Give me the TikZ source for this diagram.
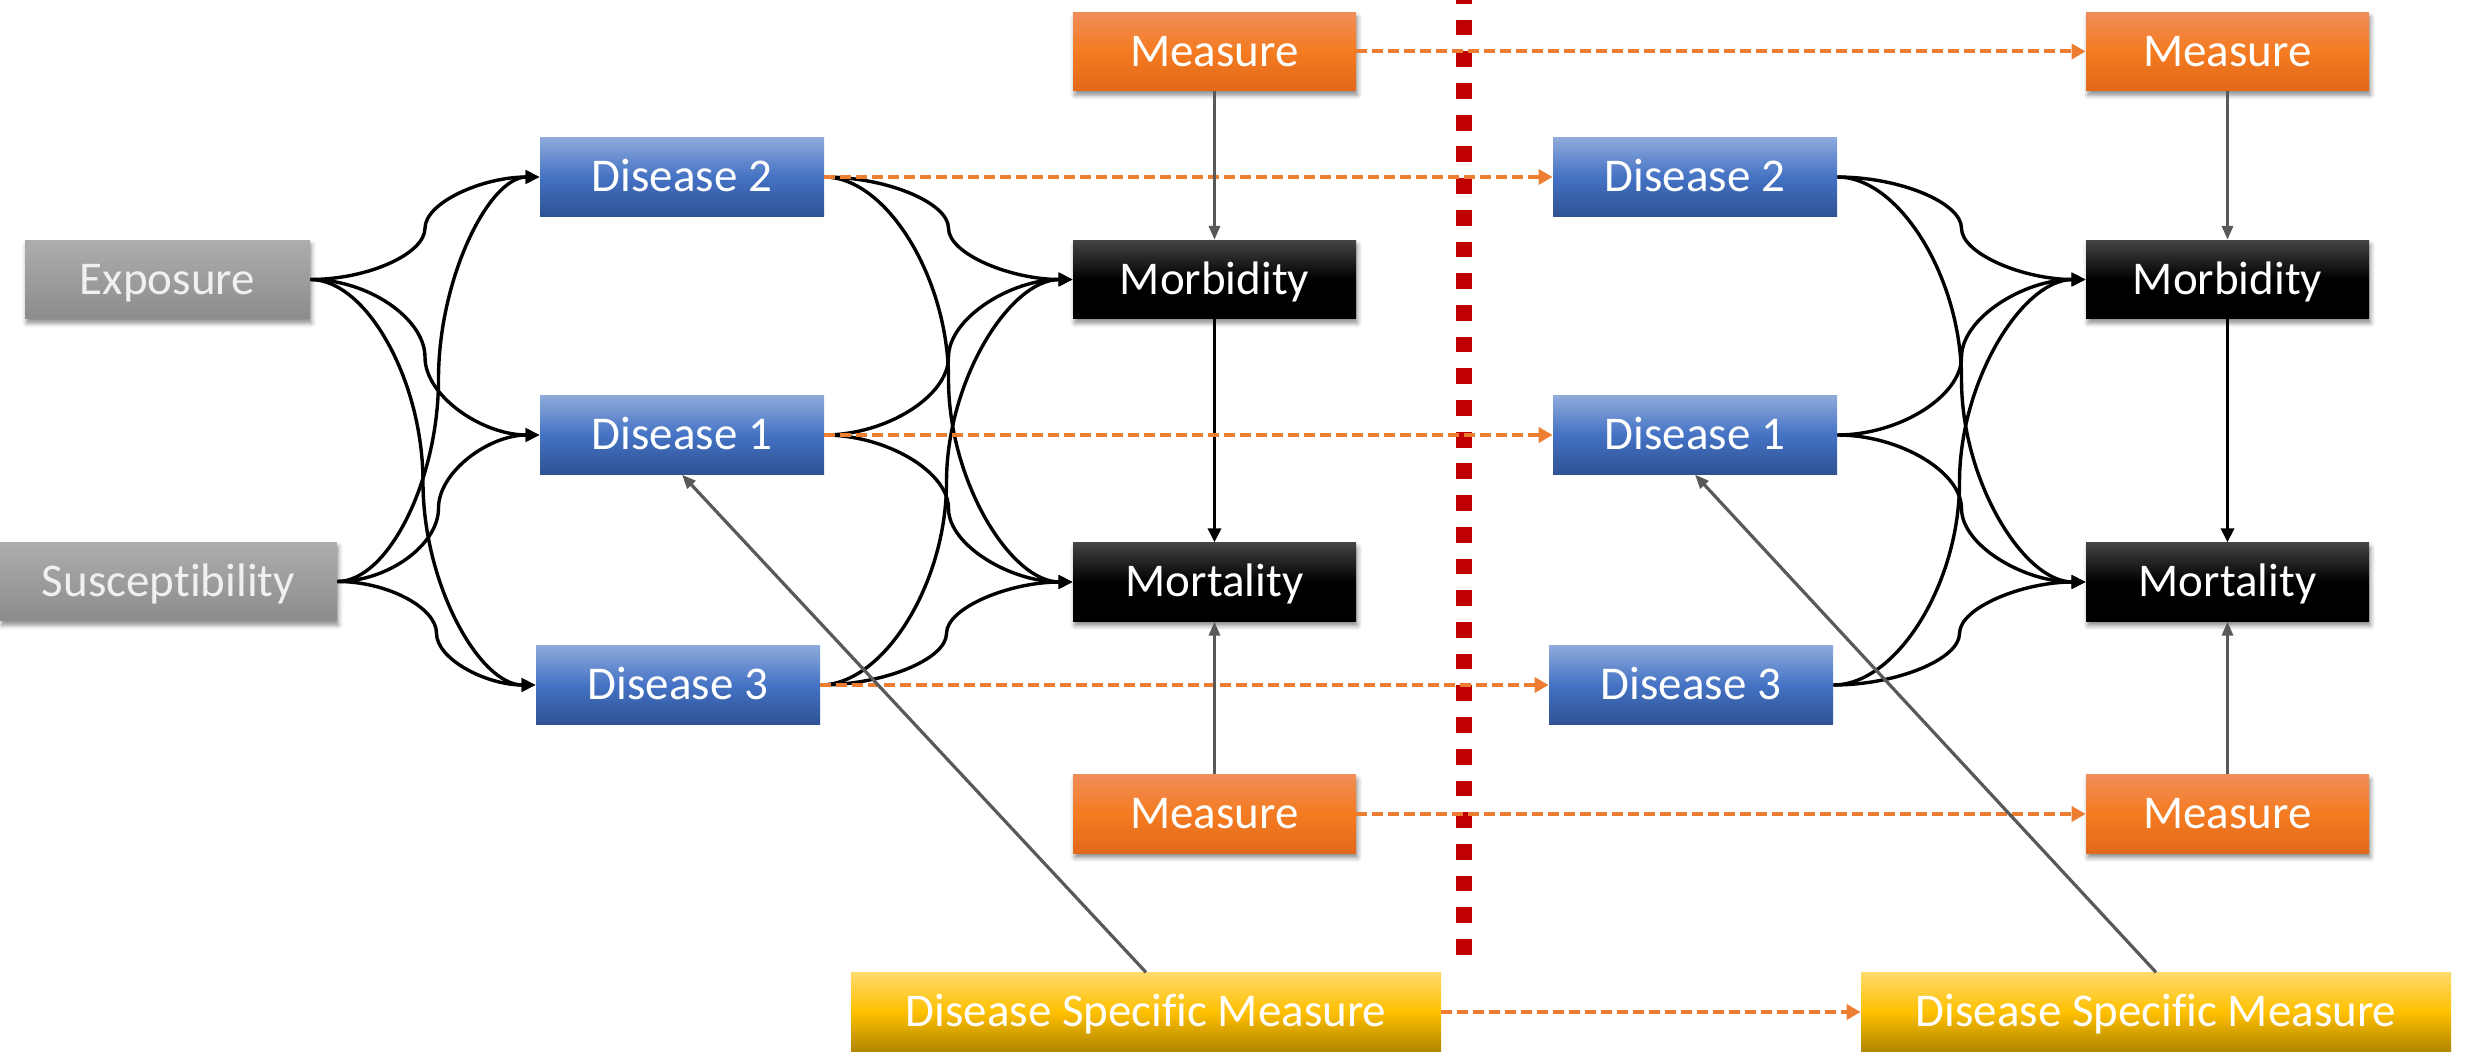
\documentclass[tikz,border=0pt]{standalone}
\usepackage{fontspec}
\setmainfont{Carlito}[Ligatures={NoCommon}]
\usetikzlibrary{arrows.meta,calc,shadows.blur}

\definecolor{blueTop}{HTML}{8EAADB}
\definecolor{blueMid}{HTML}{4472C4}
\definecolor{blueBot}{HTML}{2F5293}
\definecolor{grayTop}{HTML}{ADADAD}
\definecolor{grayBot}{HTML}{8C8C8C}
\definecolor{orTop}{HTML}{F08D58}
\definecolor{orMid}{HTML}{F47B20}
\definecolor{orBot}{HTML}{E2691A}
\definecolor{blkTop}{HTML}{444444}
\definecolor{ylTop}{HTML}{FFDA6A}
\definecolor{ylMid}{HTML}{FFC000}
\definecolor{ylBot}{HTML}{B08500}
\definecolor{dashOrange}{HTML}{ED7D31}
\definecolor{divRed}{HTML}{C00000}
\definecolor{linkGray}{HTML}{595959}

\tikzset{
  box/.style={inner sep=0pt, minimum height=39.25pt, text=white,
    text height=17pt, text depth=2.2pt,
    font=\fontsize{23.5}{28}\selectfont},
  shadowed/.style={blur shadow={shadow xshift=0.8pt, shadow yshift=-2.2pt,
    shadow blur radius=2.2pt, shadow opacity=45}},
  graybox/.style={box, shadowed, top color=grayTop, bottom color=grayBot,
    text=white!94!black},
  bluebox/.style={box, minimum width=142pt,
    top color=blueTop, bottom color=blueBot, middle color=blueMid},
  orangebox/.style={box, shadowed, minimum width=141.5pt,
    top color=orTop, bottom color=orBot, middle color=orMid},
  blackbox/.style={box, shadowed, minimum width=141.5pt,
    top color=blkTop, bottom color=black, middle color=black},
  yellowbox/.style={box, minimum width=295pt,
    top color=ylTop, bottom color=ylBot, middle color=ylMid},
  blackarrow/.style={black, line width=1.7pt,
    -{Triangle[length=7pt,width=6.5pt]}},
  grayarrow/.style={linkGray, line width=1.6pt,
    -{Triangle[length=7pt,width=5.5pt]}},
  orangedash/.style={dashOrange, line width=2pt, dash pattern=on 5.5pt off 2.5pt,
    -{Triangle[length=7pt,width=7.5pt]}},
  divider/.style={divRed, line width=8pt, dash pattern=on 7.9pt off 7.95pt},
  % two-piece S connector: horizontal out, vertical at the middle, horizontal in
  ppc/.style={to path={let \p1=(\tikztostart), \p2=(\tikztotarget) in
    .. controls ({0.75*\x1+0.25*\x2},\y1) and ({0.5*\x1+0.5*\x2},{0.75*\y1+0.25*\y2})
    .. ({0.5*\x1+0.5*\x2},{0.5*\y1+0.5*\y2})
    .. controls ({0.5*\x1+0.5*\x2},{0.25*\y1+0.75*\y2}) and ({0.25*\x1+0.75*\x2},\y2)
    .. (\tikztotarget) \tikztonodes}}
}

% one time slice: diseases, outcomes and measures
% #1 name prefix, #2 horizontal offset, #3 centre of the disease specific measure
\newcommand\causalpanel[3]{%
  \node[bluebox] (#1d2) at ({682+#2},177) {Disease 2};
  \node[bluebox] (#1d1) at ({682+#2},435) {Disease 1};
  \node[bluebox] (#1d3) at ({678+#2},685) {Disease 3};
  \node[orangebox] (#1mt) at ({1214.5+#2},51.5) {Measure};
  \node[blackbox] (#1mb) at ({1214.5+#2},279.5) {Morbidity};
  \node[blackbox] (#1mo) at ({1214.5+#2},582) {Mortality};
  \node[orangebox] (#1mm) at ({1214.5+#2},814) {Measure};
  \node[yellowbox] (#1dsm) at (#3,1012) {Disease Specific Measure};
  \foreach \dis in {d2,d1,d3}{
    \draw[blackarrow] (#1\dis.east) to[ppc] (#1mb.west);
    \draw[blackarrow] (#1\dis.east) to[ppc] (#1mo.west);
  }
  \draw[blackarrow] (#1mb) -- (#1mo);
}

\begin{document}
\begin{tikzpicture}[x=0.5pt, y=-0.5pt]
  \useasboundingbox (0,0) rectangle (2470,1053);

  % divider between the two time points
  \coordinate (divtop) at (1464,-12);
  \coordinate (divbot) at (1464,956);
  \draw[divider] (divtop) -- (divbot);

  % determinants
  \node[graybox, minimum width=142.5pt] (ex) at (167.5,279.5) {Exposure};
  \node[graybox, minimum width=168.5pt] (su) at (168.5,581.5) {Susceptibility};

  \causalpanel{L}{0}{1146}
  \causalpanel{R}{1013}{2156}

  \foreach \dis in {d2,d1,d3}{
    \draw[blackarrow] (ex.east) to[ppc] (L\dis.west);
    \draw[blackarrow] (su.east) to[ppc] (L\dis.west);
  }

  % carried over to the second time point
  \foreach \n in {mt,d2,d1,d3,mm,dsm}{
    \draw[orangedash] (L\n.east) -- (R\n.west);
  }

  % measures acting on outcomes and diseases
  \foreach \s in {L,R}{
    \draw[grayarrow] (\s mt) -- (\s mb);
    \draw[grayarrow] (\s mm) -- (\s mo);
    \draw[grayarrow] (\s dsm.north) -- (\s d1.south);
  }
\end{tikzpicture}
\end{document}
